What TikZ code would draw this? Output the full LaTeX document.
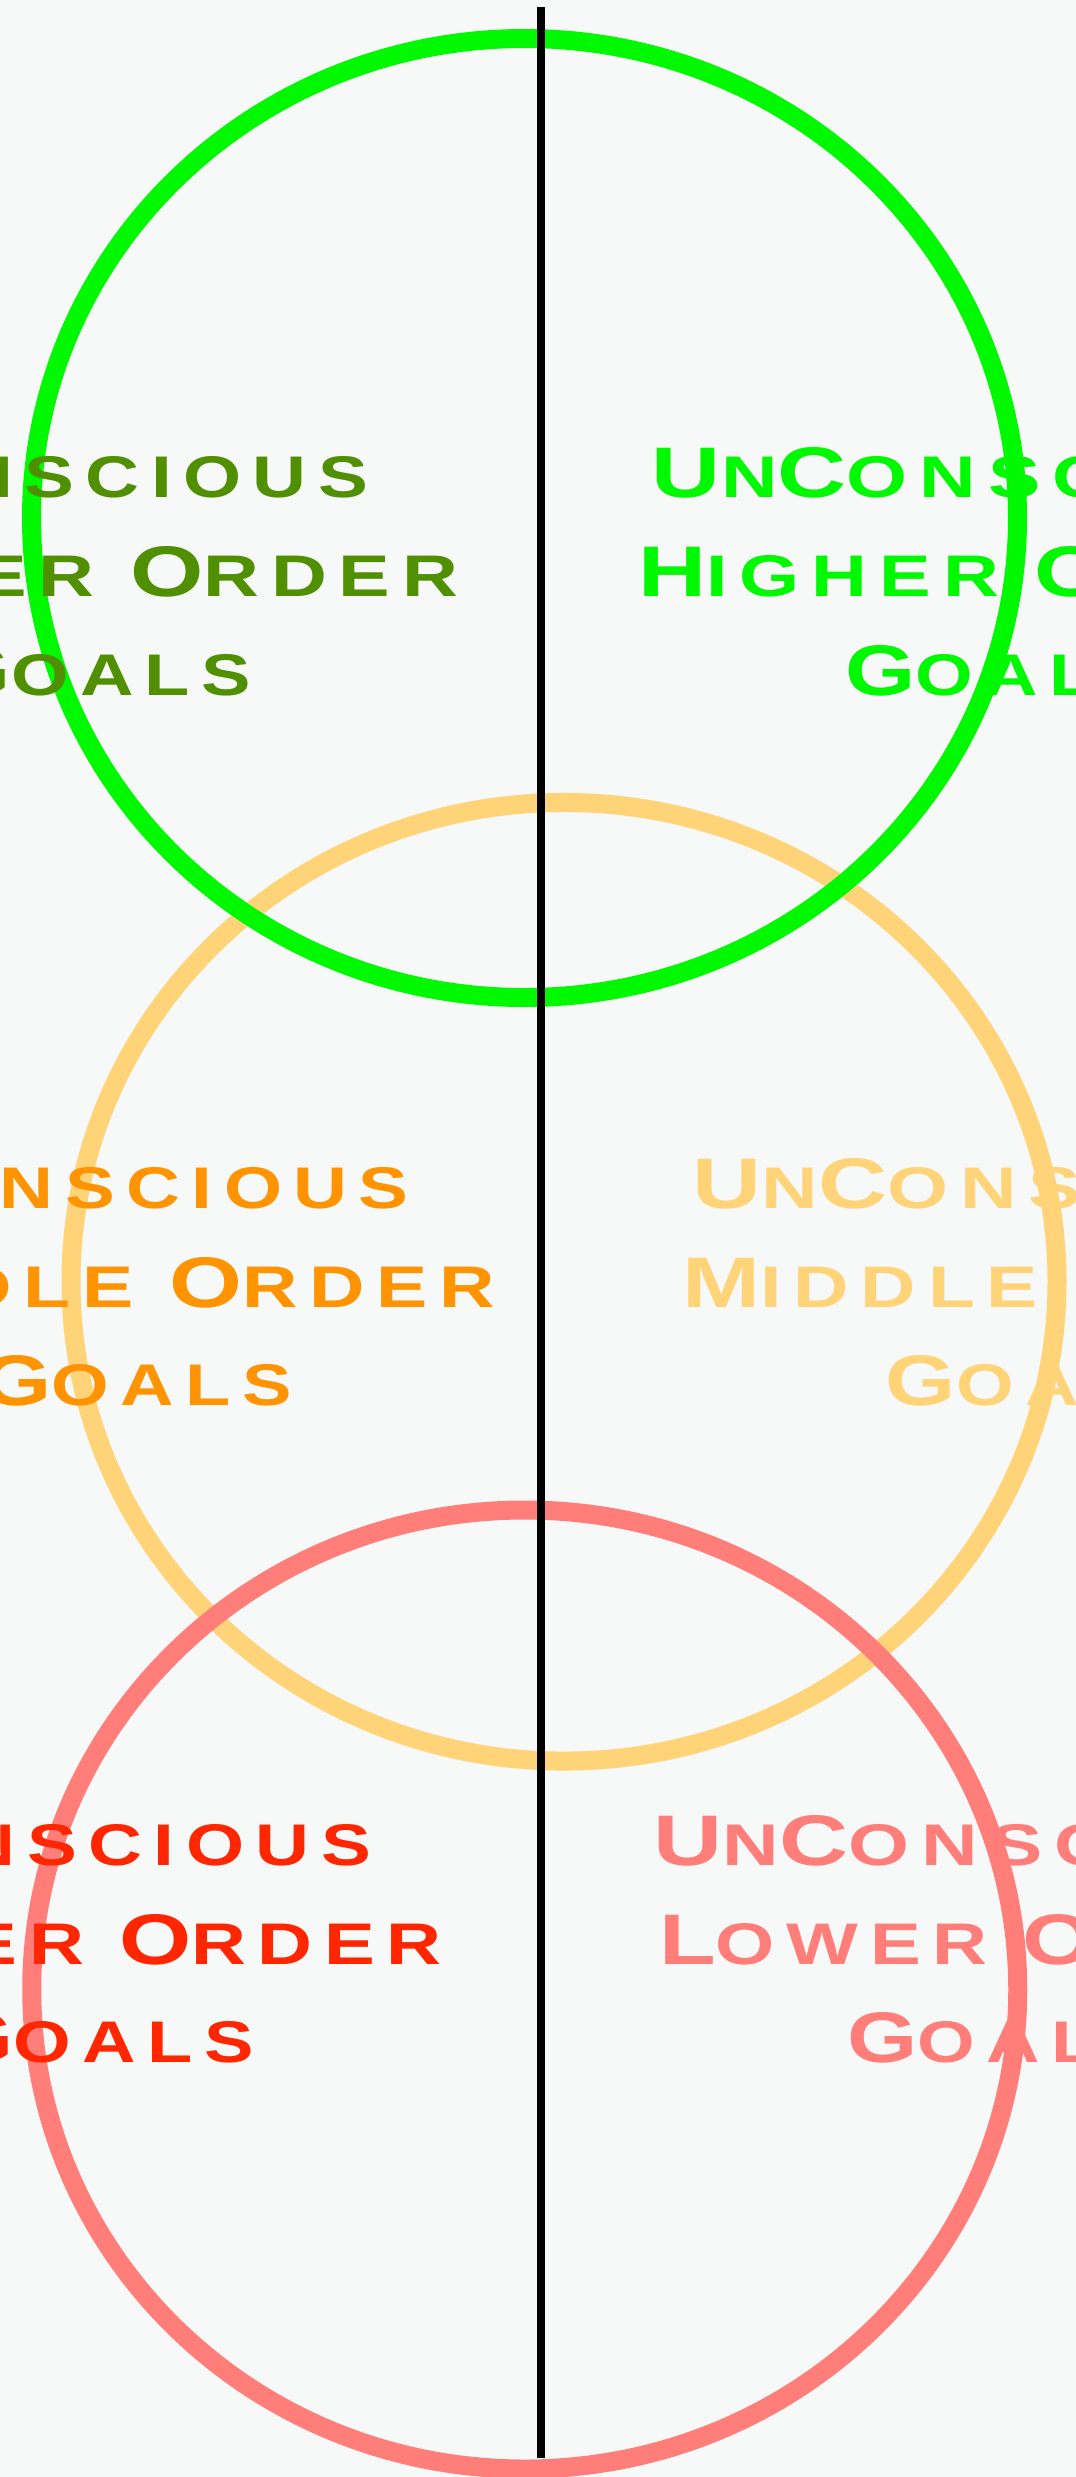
\documentclass[tikz,border=0pt]{standalone}
\usepackage{fontspec}
\usepackage{graphicx}
\newfontfamily\fa[FakeStretch=1.3]{Liberation Sans}
\newfontfamily\fb[FakeStretch=1.3,LetterSpace=20]{Liberation Sans}
\definecolor{bgc}{HTML}{F7F8F8}
\definecolor{spring}{HTML}{00F900}
\definecolor{fern}{HTML}{4F8F00}
\definecolor{tangerine}{HTML}{FF9300}
\definecolor{cantaloupe}{HTML}{FFD479}
\definecolor{maraschino}{HTML}{FF2600}
\definecolor{salmon}{HTML}{FF7E79}
\newcommand\Bg[1]{{\fontsize{10}{12}\selectfont #1}}
\newcommand\Ws{\hspace*{0.6em}}
\newcommand\trl{\setbox0\hbox{S}\setbox2\hbox{\fa\bfseries S}\kern-\dimexpr\wd0-\wd2\relax}
\newcommand\Ln[2]{\resizebox{#1pt}{50pt}{#2\trl}}
\tikzset{
  txt/.style={anchor=base, inner sep=0pt, font=\fb\bfseries\fontsize{8.2}{10}\selectfont},
  ring/.style={line width=19pt},
}
\begin{document}
\begin{tikzpicture}[x=1pt,y=-1pt]
\useasboundingbox (0,0) rectangle (1076,2477);
\clip (0,0) rectangle (1076,2477);
\fill[bgc] (0,0) rectangle (1076,2477);
% rings
\draw[ring, cantaloupe] (564,1281.75) ellipse [x radius=493pt, y radius=479.3pt];
\draw[ring, spring] (524.5,518) ellipse [x radius=493pt, y radius=479.5pt];
\draw[ring, salmon] (524.75,1989.5) ellipse [x radius=493pt, y radius=479.5pt];
% top texts
\node[txt, text=fern] (tl1) at (96,497.3) {\Ln{544}{\Bg{C}ONSCIOUS}};
\node[txt, text=fern] (tl2) at (96,596.7) {\Ln{724}{\Bg{H}IGHER\Ws\Bg{O}RDER}};
\node[txt, text=fern] (tl3) at (96,695) {\Ln{310}{\Bg{G}OALS}};
\node[txt, text=spring] (tr1) at (1000.5,497.3) {\Ln{697}{\Bg{U}N\Bg{C}ONSCIOUS}};
\node[txt, text=spring] (tr2) at (1000.5,596.7) {\Ln{724}{\Bg{H}IGHER\Ws\Bg{O}RDER}};
\node[txt, text=spring] (tr3) at (1000.5,695) {\Ln{310}{\Bg{G}OALS}};
% middle texts
\node[txt, text=tangerine] (ml1) at (136.6,1208.3) {\Ln{544}{\Bg{C}ONSCIOUS}};
\node[txt, text=tangerine] (ml2) at (136.6,1307) {\Ln{717}{\Bg{M}IDDLE\Ws\Bg{O}RDER}};
\node[txt, text=tangerine] (ml3) at (136.6,1405.3) {\Ln{310}{\Bg{G}OALS}};
\node[txt, text=cantaloupe] (mr1) at (1041,1208.3) {\Ln{697}{\Bg{U}N\Bg{C}ONSCIOUS}};
\node[txt, text=cantaloupe] (mr2) at (1041,1307) {\Ln{717}{\Bg{M}IDDLE\Ws\Bg{O}RDER}};
\node[txt, text=cantaloupe] (mr3) at (1041,1405.3) {\Ln{310}{\Bg{G}OALS}};
% bottom texts
\node[txt, text=maraschino] (bl1) at (98.8,1865.7) {\Ln{544}{\Bg{C}ONSCIOUS}};
\node[txt, text=maraschino] (bl2) at (98.8,1964) {\Ln{686}{\Bg{L}OWER\Ws\Bg{O}RDER}};
\node[txt, text=maraschino] (bl3) at (98.8,2062.7) {\Ln{310}{\Bg{G}OALS}};
\node[txt, text=salmon] (br1) at (1002.3,1865.7) {\Ln{697}{\Bg{U}N\Bg{C}ONSCIOUS}};
\node[txt, text=salmon] (br2) at (1002.3,1964) {\Ln{686}{\Bg{L}OWER\Ws\Bg{O}RDER}};
\node[txt, text=salmon] (br3) at (1002.3,2062.7) {\Ln{310}{\Bg{G}OALS}};
% vertical divider
\coordinate (ltop) at (541.3,7.3);
\coordinate (lbot) at (541.3,2458.3);
\draw[line width=7.8pt, black] (ltop) -- (lbot);
\end{tikzpicture}
\end{document}
